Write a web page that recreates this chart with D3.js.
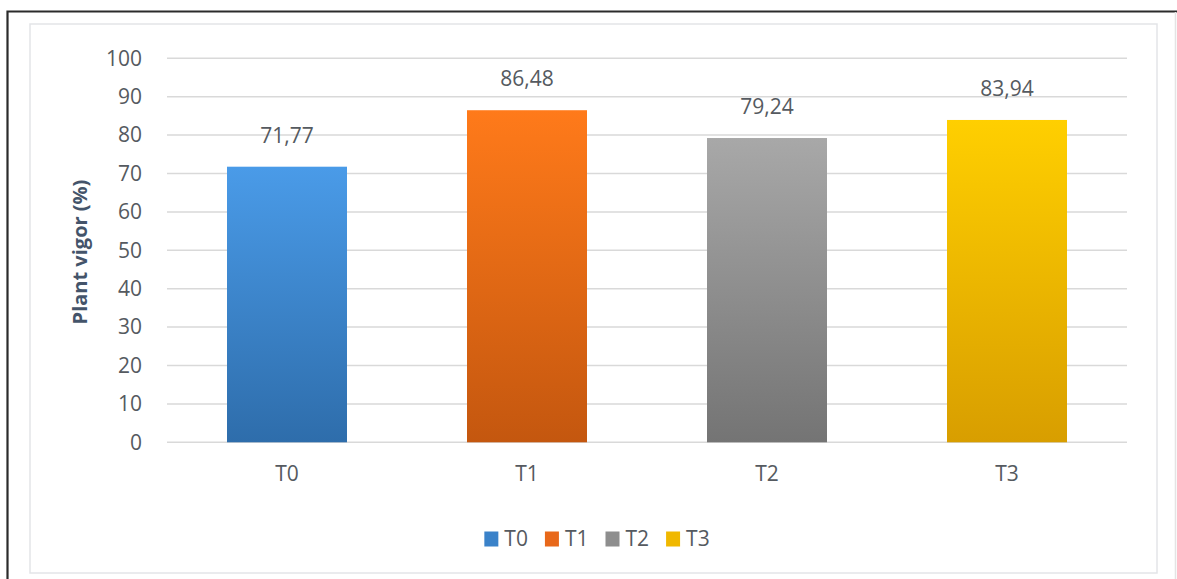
<!DOCTYPE html>
<html>
<head>
<meta charset="utf-8">
<script src="https://cdn.jsdelivr.net/npm/d3@7"></script>
<style>
  html, body { margin: 0; padding: 0; background: #fff; }
  svg { display: block; }
  text { font-family: "Open Sans", "Liberation Sans", sans-serif; }
</style>
</head>
<body>
<svg id="chart" width="1177" height="579"></svg>
<script>
// Treatments and measured plant vigor (%)
const categories = ["T0", "T1", "T2", "T3"];
const vigor = [71.77, 86.48, 79.24, 83.94];
const yTicks = [0, 10, 20, 30, 40, 50, 60, 70, 80, 90, 100];
const yTitle = "Plant vigor (%)";

// Gradient stops per treatment (top, bottom)
const topColors = ["#4a9be8", "#ff7a1a", "#a8a8a8", "#ffcf00"];
const bottomColors = ["#2e6dab", "#c4570f", "#747474", "#d89e00"];
const legendColors = ["#3a82c9", "#e8681a", "#8e8e8e", "#f0b800"];

const svg = d3.select("#chart");
const margin = { left: 167, right: 50, top: 58.3, bottom: 136.7 };
const W = 1177, H = 579;
const labelColor = "#555a60";

// outer frame
svg.append("path")
  .attr("d", `M7.5,${H} V11.5 H${W}`)
  .attr("fill", "none").attr("stroke", "#2b2b2b").attr("stroke-width", 2.2);
svg.append("line")
  .attr("x1", 1175.5).attr("x2", 1175.5).attr("y1", 12).attr("y2", H)
  .attr("stroke", "#e4e4e4").attr("stroke-width", 1.5);

// chart area border
svg.append("rect")
  .attr("x", 30).attr("y", 24).attr("width", 1127).attr("height", 549)
  .attr("fill", "none").attr("stroke", "#e3e5e8").attr("stroke-width", 1.5);

const x = d3.scaleBand().domain(categories)
  .range([margin.left, W - margin.right]).paddingInner(0.5).paddingOuter(0.25);
const y = d3.scaleLinear().domain([0, 100])
  .range([H - margin.bottom, margin.top]);

const defs = svg.append("defs");
categories.forEach((c, i) => {
  const g = defs.append("linearGradient").attr("id", "grad" + i)
    .attr("x1", 0).attr("y1", 0).attr("x2", 0).attr("y2", 1);
  g.append("stop").attr("offset", "0%").attr("stop-color", topColors[i]);
  g.append("stop").attr("offset", "100%").attr("stop-color", bottomColors[i]);
});

// gridlines
svg.append("g")
  .selectAll("line").data(yTicks).join("line")
  .attr("x1", margin.left).attr("x2", W - margin.right)
  .attr("y1", d => y(d)).attr("y2", d => y(d))
  .attr("stroke", "#d9d9d9").attr("stroke-width", 1.5);

// y axis labels
const yAxis = d3.axisLeft(y).tickValues(yTicks).tickSize(0).tickPadding(0)
  .tickFormat(d3.format("d"));
const yg = svg.append("g").attr("transform", `translate(142,0)`).call(yAxis);
yg.select(".domain").remove();
yg.selectAll("text").attr("font-size", 21).attr("fill", labelColor)
  .attr("font-family", "'Open Sans', sans-serif");

// bars
svg.append("g").selectAll("rect").data(categories).join("rect")
  .attr("x", d => x(d)).attr("width", x.bandwidth())
  .attr("y", (d, i) => y(vigor[i]))
  .attr("height", (d, i) => y(0) - y(vigor[i]))
  .attr("fill", (d, i) => `url(#grad${i})`);

// value labels
const fmt = v => d3.format(".2f")(v).replace(".", ",");
svg.append("g").selectAll("text").data(categories).join("text")
  .attr("x", d => x(d) + x.bandwidth() / 2)
  .attr("y", (d, i) => y(vigor[i]) - 24)
  .attr("text-anchor", "middle").attr("font-size", 21).attr("fill", labelColor)
  .text((d, i) => fmt(vigor[i]));

// x axis labels
const xAxis = d3.axisBottom(x).tickSize(0).tickPadding(0);
const xg = svg.append("g").attr("transform", `translate(0,${y(0) + 24})`).call(xAxis);
xg.select(".domain").remove();
xg.selectAll("text").attr("font-size", 21).attr("fill", labelColor)
  .attr("font-family", "'Open Sans', sans-serif").attr("dy", "0.71em");

// y axis title
svg.append("text")
  .attr("transform", `translate(87,252) rotate(-90)`)
  .attr("text-anchor", "middle").attr("font-size", 20).attr("font-weight", "bold")
  .attr("fill", "#44546a")
  .text(yTitle);

// legend
const legend = svg.append("g");
const items = legend.selectAll("g").data(categories).join("g");
items.append("rect").attr("width", 14).attr("height", 15)
  .attr("y", -7.5).attr("fill", (d, i) => legendColors[i]);
items.append("text").attr("x", 20).attr("dy", "0.35em")
  .attr("font-size", 21).attr("fill", labelColor).text(d => d);
let offset = 0;
const gap = 17;
items.each(function () {
  const w = this.getBBox().width;
  d3.select(this).attr("transform", `translate(${offset},0)`);
  offset += w + gap;
});
const total = offset - gap;
legend.attr("transform", `translate(${597 - total / 2},539)`);
</script>
</body>
</html>
